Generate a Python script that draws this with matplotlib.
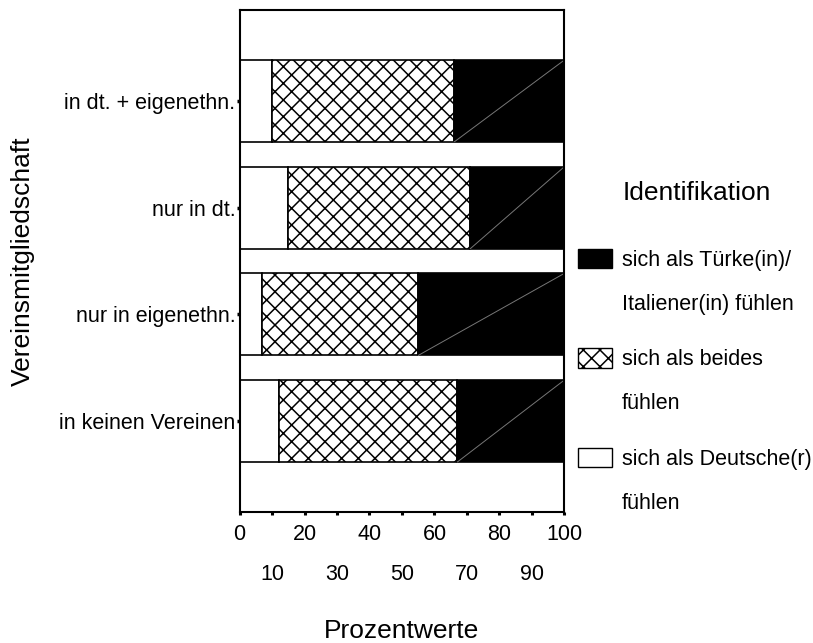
import matplotlib
matplotlib.use('Agg')
import matplotlib.pyplot as plt
from matplotlib.patches import Patch

plt.rcParams['font.family'] = ['Liberation Sans', 'DejaVu Sans']
plt.rcParams['hatch.linewidth'] = 1.1

# Vereinsmitgliedschaft, von oben nach unten
categories = ['in dt. + eigenethn.', 'nur in dt.', 'nur in eigenethn.', 'in keinen Vereinen']
deutsch = [10, 15, 7, 12]      # sich als Deutsche(r) fuehlen
beides = [56, 56, 48, 55]      # sich als beides fuehlen
herkunft = [34, 29, 45, 33]    # sich als Tuerke(in)/Italiener(in) fuehlen

major_ticks = [0, 20, 40, 60, 80, 100]
minor_ticks = [10, 30, 50, 70, 90]

legend_first = ['sich als Türke(in)/', 'sich als beides', 'sich als Deutsche(r)']
legend_second = ['Italiener(in) fühlen', 'fühlen', 'fühlen']

W, H = 813, 643
fig = plt.figure(figsize=(W / 100, H / 100), dpi=100)
ax = fig.add_axes([0.2946, 0.2037, 0.3997, 0.7807])

ypos = list(range(len(categories)))[::-1]   # first category on top
h = 0.77
left2 = [d + b for d, b in zip(deutsch, beides)]

ax.barh(ypos, deutsch, height=h, color='white', edgecolor='black', linewidth=1.2)
ax.barh(ypos, beides, left=deutsch, height=h, color='white', edgecolor='black',
        linewidth=1.2, hatch='xx')
ax.barh(ypos, herkunft, left=left2, height=h, color='black', edgecolor='black', linewidth=1.2)

# thin grey diagonal inside the black segments (as in the original rendering)
for y, l, w in zip(ypos, left2, herkunft):
    ax.plot([l, l + w], [y - h / 2, y + h / 2], color='#777777', linewidth=0.7)

ax.set_xlim(0, 100)
ax.set_ylim(-0.853, 3.853)

ax.set_yticks(ypos)
ax.set_yticklabels(categories, fontsize=15.5)
ax.set_xticks(major_ticks)
ax.set_xticks(minor_ticks, minor=True)
ax.set_xticklabels([str(t) for t in major_ticks], fontsize=15.5)
ax.set_xticklabels([str(t) for t in minor_ticks], minor=True, fontsize=15.5)

ax.tick_params(axis='x', which='both', direction='out', length=2.5, width=2.2, color='black')
ax.tick_params(axis='x', which='major', pad=6)
ax.tick_params(axis='x', which='minor', pad=35)
ax.tick_params(axis='y', direction='out', length=2.5, width=2.5, pad=0.5)

for s in ax.spines.values():
    s.set_linewidth(1.5)

ax.set_xlabel('Prozentwerte', fontsize=19)
ax.xaxis.set_label_coords(0.5, -0.213)
ax.set_ylabel('Vereinsmitgliedschaft', fontsize=19)
ax.yaxis.set_label_coords(-0.63, 0.5)

handles = [
    Patch(facecolor='black', edgecolor='black'),
    Patch(facecolor='white', edgecolor='black', hatch='xx'),
    Patch(facecolor='white', edgecolor='black'),
]
leg = fig.legend(handles, legend_first, loc='upper left', bbox_to_anchor=(0.711, 0.613),
                 frameon=False, fontsize=15.5, handlelength=1.6, handleheight=1.0,
                 handletextpad=0.45, labelspacing=3.6, borderpad=0, borderaxespad=0)

# second line of every legend entry, 44 px below the first
fig.canvas.draw()
for t, second in zip(leg.get_texts(), legend_second):
    bb = t.get_window_extent()
    fig.text(bb.x0 / W, (bb.y0 - 44) / H, second, fontsize=15.5, ha='left', va='bottom')

fig.text(0.857, 0.70, 'Identifikation', fontsize=19, ha='center', va='center')

fig.savefig('out.png', dpi=100)
